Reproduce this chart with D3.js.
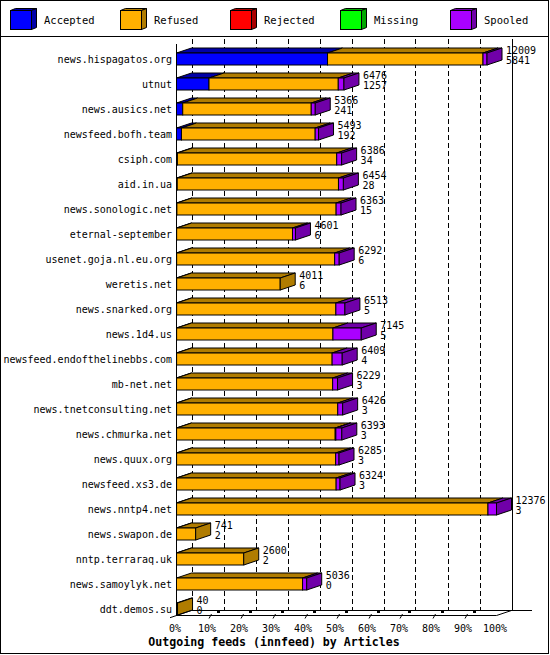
<!DOCTYPE html>
<html>
<head>
<meta charset="utf-8">
<script src="https://cdn.jsdelivr.net/npm/d3@7"></script>
<style>
  body { margin: 0; background: #fff; }
</style>
</head>
<body>
<div id="chart"></div>
<script>
// feeds, top to bottom
const hosts = [
  'news.hispagatos.org', 'utnut', 'news.ausics.net', 'newsfeed.bofh.team',
  'csiph.com', 'aid.in.ua', 'news.sonologic.net', 'eternal-september',
  'usenet.goja.nl.eu.org', 'weretis.net', 'news.snarked.org', 'news.1d4.us',
  'newsfeed.endofthelinebbs.com', 'mb-net.net', 'news.tnetconsulting.net',
  'news.chmurka.net', 'news.quux.org', 'newsfeed.xs3.de', 'news.nntp4.net',
  'news.swapon.de', 'nntp.terraraq.uk', 'news.samoylyk.net', 'ddt.demos.su'
];
const offered = [12009, 6476, 5366, 5493, 6386, 6454, 6363, 4601, 6292, 4011, 6513, 7145,
  6409, 6229, 6426, 6393, 6285, 6324, 12376, 741, 2600, 5036, 40];
const accepted = [5841, 1257, 241, 192, 34, 28, 15, 6, 6, 6, 5, 5,
  4, 3, 3, 3, 3, 3, 3, 2, 2, 0, 0];
const refused = [6013, 4999, 4970, 5171, 6162, 6236, 6158, 4480, 6111, 4005, 6158, 6045,
  6015, 6036, 6233, 6135, 6152, 6171, 12043, 739, 2598, 4876, 40];
const rejected = [0, 0, 0, 0, 0, 0, 0, 0, 0, 0, 0, 0,
  0, 0, 0, 25, 0, 0, 0, 0, 0, 0, 0];
const missing = [0, 0, 0, 0, 0, 0, 0, 0, 0, 0, 0, 0,
  0, 0, 0, 0, 0, 0, 0, 0, 0, 0, 0];
const spooled = [155, 220, 155, 130, 190, 190, 190, 115, 175, 0, 350, 1095,
  390, 190, 190, 230, 130, 150, 330, 0, 0, 160, 0];

const pctTicks = [0, 10, 20, 30, 40, 50, 60, 70, 80, 90, 100];
const seriesNames = ['Accepted', 'Refused', 'Rejected', 'Missing', 'Spooled'];
const chartTitle = 'Outgoing feeds (innfeed) by Articles';

const keys = ['accepted', 'refused', 'rejected', 'missing', 'spooled'];
const frontColor = ['#0000ff', '#ffb000', '#ff0000', '#00ff00', '#aa00ff'];
const darkColor = ['#0000a8', '#b07c00', '#a80000', '#00a800', '#7000a8'];

const W = 550, H = 655;
const depthX = 15, depthY = -5;
const barH = 12;

const svg = d3.select('#chart').append('svg')
  .attr('width', W).attr('height', H)
  .style('font-family', '"DejaVu Sans Mono", monospace')
  .style('font-size', '10px');

const x = d3.scaleLinear().domain([0, d3.max(offered)]).range([176.5, 496.5]);
const xPct = d3.scaleLinear().domain([0, 100]).range([176.5, 496.5]);
const y = d3.scalePoint().domain(hosts).range([59, 609]);

const floorFront = 615, floorBack = floorFront + depthY;
const wallTop = 39;

function line(x1, y1, x2, y2) {
  return svg.append('line')
    .attr('x1', x1).attr('y1', y1).attr('x2', x2).attr('y2', y2)
    .attr('stroke', 'black').attr('stroke-width', 1);
}

// frame and legend box
svg.append('rect')
  .attr('x', 0.5).attr('y', 0.5).attr('width', 548).attr('height', 653)
  .attr('fill', 'white').attr('stroke', 'black');
line(0, 36.5, 548.5, 36.5);

const legend = svg.append('g').selectAll('g')
  .data(seriesNames)
  .join('g')
  .attr('transform', (d, i) => `translate(${10.5 + i * 110},10.5)`);

legend.append('polygon')
  .attr('points', `0,0 21,0 26,-2 5,-2`)
  .attr('fill', (d, i) => darkColor[i]).attr('stroke', 'black');
legend.append('polygon')
  .attr('points', `21,0 26,-2 26,17 21,19`)
  .attr('fill', (d, i) => darkColor[i]).attr('stroke', 'black');
legend.append('rect')
  .attr('width', 21).attr('height', 19)
  .attr('fill', (d, i) => frontColor[i]).attr('stroke', 'black');
legend.append('text')
  .attr('x', 33.5).attr('y', 9.5).attr('dy', '0.35em')
  .style('font-size', '10.5px')
  .text(d => d);

// back wall grid
svg.append('g').selectAll('line')
  .data(pctTicks)
  .join('line')
  .attr('x1', d => Math.round(xPct(d) + depthX) + 0.5)
  .attr('x2', d => Math.round(xPct(d) + depthX) + 0.5)
  .attr('y1', wallTop).attr('y2', floorBack)
  .attr('stroke', 'black')
  .attr('stroke-dasharray', d => d === 100 ? null : '5,3');

// bars
const table = hosts.map((h, i) => ({
  host: h,
  accepted: accepted[i], refused: refused[i], rejected: rejected[i],
  missing: missing[i], spooled: spooled[i]
}));
const stacked = d3.stack().keys(keys)(table);

const bars = svg.append('g');
stacked.forEach((s, k) => {
  const segs = s.filter(d => d[1] > d[0]);
  const g = bars.append('g');
  g.selectAll('polygon')
    .data(segs)
    .join('polygon')
    .attr('points', d => {
      const top = y(d.data.host) - barH / 2;
      const x0 = x(d[0]), x1 = x(d[1]);
      return `${x0},${top} ${x1},${top} ${x1 + depthX},${top + depthY} ${x0 + depthX},${top + depthY}`;
    })
    .attr('fill', darkColor[k]).attr('stroke', 'black');
  g.selectAll('rect')
    .data(segs)
    .join('rect')
    .attr('x', d => x(d[0]))
    .attr('y', d => y(d.data.host) - barH / 2)
    .attr('width', d => x(d[1]) - x(d[0]))
    .attr('height', barH)
    .attr('fill', frontColor[k]).attr('stroke', 'black');
});

// side face coloured by the last non-empty segment
bars.append('g').selectAll('polygon')
  .data(table)
  .join('polygon')
  .attr('points', (d, i) => {
    const top = y(d.host) - barH / 2, bottom = top + barH;
    const x1 = x(offered[i]);
    return `${x1},${top} ${x1 + depthX},${top + depthY} ${x1 + depthX},${bottom + depthY} ${x1},${bottom}`;
  })
  .attr('fill', d => {
    let k = 0;
    keys.forEach((key, j) => { if (d[key] > 0) k = j; });
    return darkColor[k];
  })
  .attr('stroke', 'black');

// host names
svg.append('g').selectAll('text')
  .data(hosts)
  .join('text')
  .attr('x', 172).attr('y', d => y(d)).attr('dy', '0.35em')
  .style('text-anchor', 'end')
  .text(d => d);

// offered / accepted labels
const vals = svg.append('g').selectAll('g')
  .data(hosts)
  .join('g')
  .attr('transform', (d, i) => `translate(${x(offered[i]) + 19},${y(d)})`);
vals.append('text').attr('y', -9).attr('dy', '0.35em').text((d, i) => offered[i]);
vals.append('text').attr('y', 1.5).attr('dy', '0.35em').text((d, i) => accepted[i]);

// floor and front axis
line(176.5, 44, 176.5, floorFront);
line(xPct(0) + depthX, floorBack + 0.5, 532, floorBack + 0.5);
line(176.5, floorFront + 0.5, xPct(100), floorFront + 0.5);
line(xPct(0) + depthX, floorBack + 0.5, 170, floorFront + 2.7);
line(xPct(100), floorFront + 0.5, xPct(100) + depthX, floorBack + 0.5);

const ticks = svg.append('g').selectAll('g')
  .data(pctTicks.filter(p => p > 0 && p < 100))
  .join('g')
  .attr('transform', d => `translate(${Math.round(xPct(d))},0)`);
ticks.append('line')
  .attr('x1', 0).attr('y1', floorFront + 3.5).attr('x2', 2.5).attr('y2', floorFront - 1)
  .attr('stroke', 'black');
ticks.append('rect')
  .attr('x', 8).attr('y', floorBack).attr('width', 3).attr('height', 3)
  .attr('fill', 'black');

svg.append('g').selectAll('text')
  .data(pctTicks)
  .join('text')
  .attr('x', d => xPct(d) - 1.5).attr('y', 628).attr('dy', '0.35em')
  .style('text-anchor', 'middle')
  .text(d => d + '%');

svg.append('text')
  .attr('x', 274).attr('y', 641.5).attr('dy', '0.35em')
  .style('text-anchor', 'middle')
  .style('font-weight', 'bold')
  .style('font-size', '11.6px')
  .text(chartTitle);
</script>
</body>
</html>
